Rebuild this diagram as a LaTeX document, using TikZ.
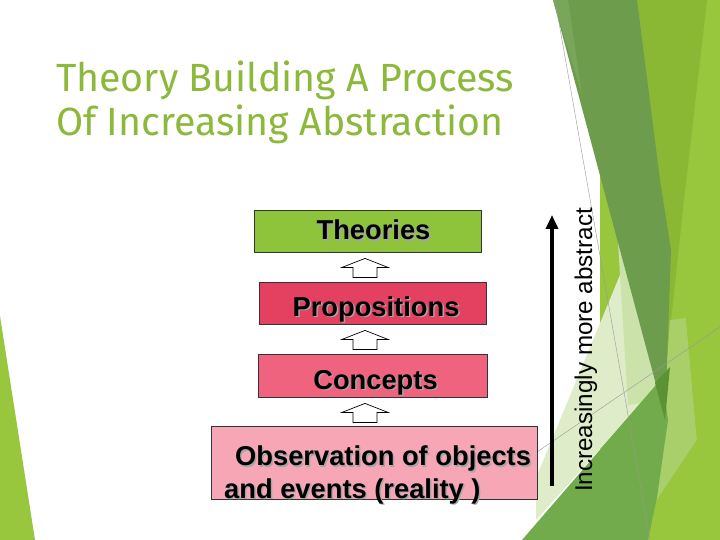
\documentclass[tikz,border=0pt]{standalone}
\usepackage{fontspec}
\setmainfont{Liberation Sans}
\newfontfamily\titlefont{Fira Sans}
\usetikzlibrary{arrows.meta,calc}
\definecolor{titlegreen}{HTML}{8CB83B}
\definecolor{thfill}{HTML}{8EC33C}
\definecolor{prfill}{HTML}{E4405F}
\definecolor{cofill}{HTML}{F0637F}
\definecolor{obfill}{HTML}{F7A6B5}
\definecolor{limea}{HTML}{98C63C}
\definecolor{limeb}{HTML}{8AB835}
\definecolor{olivea}{HTML}{6E9C4D}
\definecolor{oliveb}{HTML}{7AA65A}
\definecolor{palea}{HTML}{DEECC9}
\definecolor{paleb}{HTML}{CCE2AB}
\definecolor{midg}{HTML}{72AB4B}
\definecolor{darkg}{HTML}{5B9233}
\definecolor{lightg}{HTML}{A8CF6A}
\newlength\mytw
\settowidth\mytw{\titlefont\fontsize{40}{40}\selectfont Theory Building A Process}
\pgfmathsetmacro\tsz{458/\mytw*40}
\newcommand\mysh[1]{\rlap{\hspace{1.5pt}\raisebox{-1.5pt}{\textcolor{black!35}{#1}}}#1}
\tikzset{blockup/.pic={\draw[blk] (0,0) -- (23,-9) -- (12,-9) -- (12,-19) -- (-12,-19) -- (-12,-9) -- (-23,-9) -- cycle;}}
\begin{document}
\begin{tikzpicture}[x=1pt,y=1pt,
  box/.style={draw=black!80, line width=0.8pt, inner sep=0pt},
  lbl/.style={font=\fontsize{27.3}{32}\selectfont\bfseries, anchor=base, inner sep=0pt},
  blk/.style={draw=black, line width=0.7pt, fill=white},
  hair/.style={draw=black!40, line width=0.4pt}]
\useasboundingbox (0,0) rectangle (720,-540);
\fill[white] (0,0) rectangle (720,-540);
% background facets
\fill[limea] (0,-316) -- (0,-540) -- (35,-540) -- cycle;
\fill[limea] (600,0) rectangle (720,-540);
\fill[limea] (560,-540) -- (640,-380) -- (640,-540) -- cycle;
\fill[limeb] (620,0) -- (707,0) -- (684,-200) -- (670,-330) -- (665,-420) -- cycle;
\fill[lightg] (670,-320) -- (686,-318) -- (697,-440) -- (657,-500) -- cycle;
\fill[limea] (686,-318) -- (720,-300) -- (720,-540) -- (648,-540) -- (657,-500) -- (697,-440) -- cycle;
\fill[palea] (627,-258) -- (536,-478) -- (536,-520) -- (662,-380) -- cycle;
\fill[paleb] (618,-242) -- (662,-400) -- (628,-405) -- cycle;
\fill[olivea] (553,0) -- (637,0) -- (660,-180) -- (671,-250) -- (665,-418) -- cycle;
\fill[oliveb] (553,0) -- (568,0) -- (582,-95) -- cycle;
\fill[midg] (522,-540) -- (662,-378) -- (668,-420) -- (657,-497) -- (648,-540) -- cycle;
\fill[darkg] (655,-383) -- (670,-367) -- (665,-420) -- cycle;
\draw[hair] (555,0) -- (650,-540);
\draw[hair] (537,-452) -- (720,-327);
% title
\node[anchor=base west, inner sep=0pt, text=titlegreen, font=\titlefont\fontsize{\tsz}{\tsz}\selectfont] (t1) at (56,-92) {Theory Building A Process};
\node[anchor=base west, inner sep=0pt, text=titlegreen, font=\titlefont\fontsize{\tsz}{\tsz}\selectfont] (t2) at (56,-136) {Of Increasing Abstraction};
% boxes
\node[box, fill=thfill, minimum width=227pt, minimum height=42pt] (theories) at (367.5,-231) {};
\node[box, fill=prfill, minimum width=227pt, minimum height=42pt] (props) at (372.5,-303) {};
\node[box, fill=cofill, minimum width=229pt, minimum height=43pt] (concepts) at (372.5,-375.5) {};
\node[box, fill=obfill, minimum width=326pt, minimum height=73pt] (obs) at (374,-462.5) {};
\node[lbl] (lth) at (373.5,-240) {\mysh{Theories}};
\node[lbl] (lpr) at (376,-316) {\mysh{Propositions}};
\node[lbl] (lco) at (375.5,-389) {\mysh{Concepts}};
\node[lbl, anchor=base west] (lob1) at (235,-465.5) {\mysh{Observation of objects}};
\node[lbl, anchor=base west] (lob2) at (224,-498) {\mysh{and events (reality )}};
% block arrows
\coordinate (ax) at (365,0);
\pic at ($(theories.south -| ax)+(0,-6)$) {blockup};
\pic at ($(props.south -| ax)+(0,-6)$) {blockup};
\pic at ($(concepts.south -| ax)+(0,-6)$) {blockup};
% abstraction arrow
\coordinate (vbot) at (552,-486);
\coordinate (vtop) at (552,-215);
\draw[line width=3.5pt, -{Triangle[length=14pt,width=12pt]}] (vbot) -- (vtop);
\node[rotate=90, anchor=base west, inner sep=0pt, font=\fontsize{24.2}{28}\selectfont] (abs) at (592,-492) {Increasingly more abstract};
\end{tikzpicture}
\end{document}
